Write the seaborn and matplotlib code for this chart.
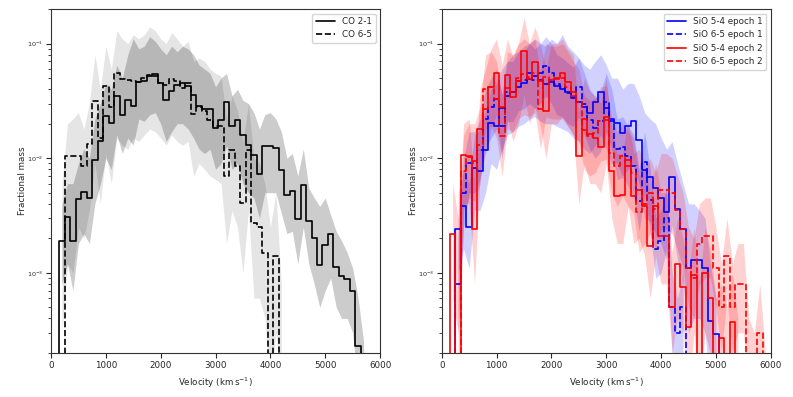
import numpy as np
import matplotlib
matplotlib.use("Agg")
import matplotlib.pyplot as plt
import seaborn as sns

# ------------------------------------------------------
# Values (bin width 100 km/s,
# values given at bin centres; 1e-5 = empty bin)
# ------------------------------------------------------
FLOOR = 1e-5

# CO 2-1, bins centred 100 ... 5700
co21_start = 100
co21 = [FLOOR, 0.00188, 0.00306, 0.00191, 0.00443, 0.00507, 0.00449, 0.0096, 0.0140, 0.0232,
        0.0203, 0.0347, 0.024, 0.0324, 0.0288, 0.0459, 0.0472, 0.0519, 0.0544, 0.0454,
        0.0324, 0.0384, 0.0438, 0.0454, 0.0424, 0.0359, 0.0288, 0.0269, 0.0269, 0.0184,
        0.0217, 0.0308, 0.0190, 0.0217, 0.0160, 0.0131, 0.0107, 0.0073, 0.0127, 0.0127,
        0.0123, 0.0079, 0.0048, 0.0052, 0.00296, 0.0058, 0.00286, 0.0020, 0.00117, 0.00175,
        0.00219, 0.00113, 0.00094, 0.00088, 0.00070, 0.00023, FLOOR]

# CO 6-5, bins centred 200 ... 4200
co65_start = 200
co65 = [FLOOR, 0.0105, 0.0105, 0.0105, 0.0085, 0.0134, 0.0318, 0.0150, 0.043, 0.028,
        0.0555, 0.049, 0.048, 0.047, 0.046, 0.050, 0.053, 0.052, 0.045, 0.0438,
        0.0491, 0.0469, 0.041, 0.0454, 0.0245, 0.028, 0.0257, 0.0217, 0.019, 0.019,
        0.0070, 0.0117, 0.0085, 0.0041, 0.0119, 0.0027, 0.0025, 0.00149, FLOOR, 0.00141,
        FLOOR]

# uncertainty bands (200 ... 5700)
co21_band_start = 200
co21_hi = [0.004, 0.006, 0.006, 0.009, 0.012, 0.010, 0.022, 0.030, 0.045, 0.040,
           0.065, 0.050, 0.080, 0.110, 0.090, 0.095, 0.115, 0.105, 0.090, 0.080,
           0.095, 0.085, 0.095, 0.090, 0.080, 0.065, 0.060, 0.055, 0.042, 0.050,
           0.055, 0.035, 0.040, 0.032, 0.030, 0.025, 0.018, 0.024, 0.025, 0.022,
           0.017, 0.010, 0.011, 0.007, 0.012, 0.0055, 0.0045, 0.0038, 0.0045, 0.0032,
           0.0023, 0.0019, 0.0015, 0.0011, 0.0006, 0.00025]
co21_lo = [0.0008, 0.0012, 0.0007, 0.0018, 0.0022, 0.0018, 0.004, 0.006, 0.010, 0.008,
           0.016, 0.011, 0.015, 0.013, 0.022, 0.021, 0.024, 0.025, 0.020, 0.014,
           0.017, 0.020, 0.020, 0.018, 0.015, 0.012, 0.011, 0.012, 0.008, 0.009,
           0.013, 0.008, 0.009, 0.006, 0.005, 0.0045, 0.003, 0.005, 0.005, 0.005,
           0.0033, 0.0022, 0.0023, 0.0012, 0.0025, 0.0012, 0.0008, 0.0005, 0.0007, 0.0009,
           0.0005, 0.0004, 0.0004, 0.0003, 0.0001, 0.0001]

co65_band_start = 200
co65_hi = [0.006, 0.020, 0.022, 0.025, 0.018, 0.030, 0.080, 0.040, 0.095, 0.060,
           0.130, 0.110, 0.100, 0.120, 0.110, 0.120, 0.140, 0.130, 0.110, 0.100,
           0.125, 0.110, 0.095, 0.105, 0.070, 0.075, 0.070, 0.060, 0.055, 0.052,
           0.022, 0.035, 0.026, 0.014, 0.030, 0.010, 0.009, 0.006, 0.0025, 0.005,
           0.0008]
co65_lo = [0.0003, 0.0012, 0.0010, 0.0025, 0.0020, 0.0035, 0.009, 0.004, 0.011, 0.006,
           0.015, 0.013, 0.012, 0.015, 0.014, 0.016, 0.018, 0.017, 0.015, 0.013,
           0.016, 0.014, 0.013, 0.014, 0.007, 0.009, 0.008, 0.007, 0.0065, 0.006,
           0.0018, 0.0035, 0.0025, 0.0010, 0.0035, 0.0006, 0.0006, 0.0004, 0.0001, 0.0003,
           0.0001]

# SiO 5-4 epoch 1, bins centred 200 ... 5100
sio54_e1_start = 200
sio54_e1 = [FLOOR, 0.0024, 0.0038, 0.0025, 0.0082, 0.0077, 0.0117, 0.0204, 0.019, 0.0275,
            0.035, 0.038, 0.042, 0.045, 0.049, 0.052, 0.048, 0.044, 0.046, 0.043,
            0.040, 0.038, 0.0335, 0.031, 0.028, 0.025, 0.031, 0.038, 0.0275, 0.021,
            0.0204, 0.0166, 0.019, 0.021, 0.0145, 0.0079, 0.0069, 0.0055, 0.0045, 0.0034,
            0.0069, 0.0036, 0.0024, 0.0011, 0.0013, 0.0013, 0.0011, 0.00038, 0.00029, FLOOR]

# SiO 6-5 epoch 1, bins centred 200 ... 4500
sio65_e1_start = 200
sio65_e1 = [FLOOR, 0.0008, 0.005, 0.0091, 0.0091, 0.0117, 0.022, 0.028, 0.033, 0.019,
            0.038, 0.038, 0.047, 0.048, 0.055, 0.048, 0.055, 0.064, 0.055, 0.044,
            0.042, 0.037, 0.034, 0.042, 0.030, 0.0217, 0.0184, 0.021, 0.031, 0.022,
            0.012, 0.0125, 0.0104, 0.0085, 0.0042, 0.0092, 0.0043, 0.0016, 0.0019, 0.003,
            0.0005, 0.0003, 0.0005, FLOOR]

# SiO 5-4 epoch 2, bins centred 100 ... 5400
sio54_e2_start = 100
sio54_e2 = [FLOOR, 0.0022, FLOOR, 0.0107, 0.0105, 0.0024, 0.018, 0.027, 0.042, 0.055,
            0.028, 0.053, 0.034, 0.047, 0.086, 0.049, 0.069, 0.047, 0.026, 0.048,
            0.050, 0.055, 0.046, 0.038, 0.0105, 0.022, 0.0163, 0.015, 0.0125, 0.023,
            0.0077, 0.0047, 0.0048, 0.0097, 0.0047, 0.0053, 0.0038, 0.0017, 0.0038, 0.0021,
            0.0021, 0.0005, 0.0012, 0.00075, 0.00034, 0.00096, FLOOR, 0.0010, 0.0006, FLOOR,
            0.00027, FLOOR, 0.00037, FLOOR]

# SiO 6-5 epoch 2, bins centred 300 ... 5900
sio65_e2_start = 300
sio65_e2 = [FLOOR, 0.0077, 0.0102, 0.0095, 0.013, 0.040, 0.042, 0.033, 0.0155, 0.041,
            0.038, 0.050, 0.054, 0.051, 0.055, 0.027, 0.051, 0.048, 0.049, 0.050,
            0.042, 0.035, 0.031, 0.0177, 0.0155, 0.0166, 0.021, 0.0217, 0.011, 0.0085,
            0.0104, 0.0085, 0.0074, 0.0034, 0.004, 0.005, 0.0036, 0.0053, 0.0053, 0.005,
            0.0035, 0.0024, 0.0011, 0.0009, 0.0018, 0.0021, 0.0021, 0.0011, 0.0005, 0.0014,
            0.0005, 0.0008, 0.0008, FLOOR, FLOOR, 0.0003, FLOOR]

# bands, right panel
sio54_e1_band_start = 300
sio54_e1_hi = [0.005, 0.008, 0.006, 0.016, 0.018, 0.025, 0.040, 0.045, 0.060, 0.070,
               0.080, 0.085, 0.095, 0.10, 0.11, 0.10, 0.095, 0.11, 0.10, 0.12,
               0.095, 0.085, 0.075, 0.065, 0.06, 0.07, 0.08, 0.065, 0.05, 0.05,
               0.04, 0.045, 0.045, 0.035, 0.025, 0.022, 0.02, 0.015, 0.012, 0.014,
               0.009, 0.006, 0.004, 0.004, 0.0035, 0.003, 0.0012, 0.0006]
sio54_e1_lo = [0.001, 0.0016, 0.0011, 0.0035, 0.0035, 0.005, 0.009, 0.008, 0.012, 0.016,
               0.017, 0.019, 0.02, 0.022, 0.023, 0.021, 0.02, 0.02, 0.019, 0.018,
               0.017, 0.015, 0.014, 0.012, 0.011, 0.013, 0.016, 0.012, 0.009, 0.009,
               0.007, 0.008, 0.009, 0.006, 0.003, 0.0028, 0.0022, 0.0018, 0.0013, 0.0026,
               0.0013, 0.0008, 0.0003, 0.0004, 0.0004, 0.0003, 0.0001, 0.0001]

sio65_e1_band_start = 300
sio65_e1_hi = [0.002, 0.010, 0.017, 0.017, 0.022, 0.04, 0.05, 0.06, 0.036, 0.07,
               0.07, 0.085, 0.085, 0.10, 0.09, 0.10, 0.115, 0.10, 0.08, 0.075,
               0.068, 0.062, 0.075, 0.055, 0.04, 0.034, 0.038, 0.055, 0.04, 0.022,
               0.023, 0.019, 0.016, 0.008, 0.017, 0.008, 0.003, 0.0035, 0.0055, 0.001,
               0.0006, 0.001]
sio65_e1_lo = [0.0003, 0.0025, 0.005, 0.005, 0.0065, 0.012, 0.015, 0.018, 0.01, 0.021,
               0.021, 0.026, 0.027, 0.03, 0.027, 0.03, 0.035, 0.03, 0.024, 0.023,
               0.02, 0.019, 0.023, 0.016, 0.012, 0.01, 0.0115, 0.017, 0.012, 0.0065,
               0.0068, 0.0057, 0.0046, 0.0023, 0.005, 0.0023, 0.0009, 0.001, 0.0016, 0.0002,
               0.0001, 0.0001]

sio54_e2_band_start = 200
sio54_e2_hi = [0.006, 0.003, 0.02, 0.022, 0.006, 0.04, 0.06, 0.09, 0.11, 0.065,
               0.11, 0.075, 0.10, 0.17, 0.10, 0.14, 0.10, 0.06, 0.10, 0.10,
               0.11, 0.09, 0.08, 0.025, 0.05, 0.038, 0.035, 0.03, 0.05, 0.018,
               0.011, 0.011, 0.022, 0.011, 0.012, 0.009, 0.0045, 0.009, 0.005, 0.005,
               0.0015, 0.003, 0.002, 0.001, 0.0025, 0.0008, 0.0025, 0.0016, 0.0006, 0.0008,
               0.0005, 0.001, 0.0004]
sio54_e2_lo = [0.0006, 0.0003, 0.004, 0.004, 0.0008, 0.007, 0.011, 0.018, 0.024, 0.011,
               0.022, 0.014, 0.02, 0.036, 0.02, 0.028, 0.019, 0.01, 0.02, 0.02,
               0.023, 0.019, 0.016, 0.004, 0.009, 0.006, 0.006, 0.005, 0.009, 0.003,
               0.0018, 0.0018, 0.0038, 0.0018, 0.002, 0.0014, 0.0006, 0.0014, 0.0008, 0.0008,
               0.0002, 0.0004, 0.0003, 0.0001, 0.0003, 0.0001, 0.0003, 0.0002, 0.0001, 0.0001,
               0.0001, 0.0001, 0.0001]

sio65_e2_band_start = 300
sio65_e2_hi = [0.002, 0.016, 0.02, 0.02, 0.028, 0.08, 0.085, 0.07, 0.035, 0.085,
               0.08, 0.10, 0.11, 0.10, 0.11, 0.055, 0.10, 0.095, 0.095, 0.10,
               0.085, 0.07, 0.06, 0.035, 0.032, 0.033, 0.042, 0.043, 0.022, 0.017,
               0.02, 0.017, 0.015, 0.007, 0.008, 0.01, 0.0075, 0.011, 0.011, 0.01,
               0.007, 0.005, 0.0025, 0.002, 0.004, 0.0045, 0.0045, 0.0025, 0.0012, 0.003,
               0.0012, 0.0018, 0.0018, 0.0004, 0.0003, 0.0008, 0.0002]
sio65_e2_lo = [0.0001, 0.0035, 0.0045, 0.0042, 0.006, 0.018, 0.019, 0.015, 0.007, 0.018,
               0.017, 0.022, 0.024, 0.023, 0.025, 0.012, 0.023, 0.022, 0.022, 0.022,
               0.019, 0.016, 0.014, 0.008, 0.007, 0.0075, 0.0095, 0.0098, 0.005, 0.0038,
               0.0047, 0.0038, 0.0033, 0.0015, 0.0018, 0.0022, 0.0016, 0.0024, 0.0024, 0.0022,
               0.0016, 0.0011, 0.0005, 0.0004, 0.0008, 0.0009, 0.0009, 0.0005, 0.0002, 0.0006,
               0.0002, 0.0003, 0.0003, 0.0001, 0.0001, 0.0001, 0.0001]

BLUE = "#0000ff"
RED = "#ff0000"


def centres(start, vals):
    return np.arange(len(vals)) * 100 + start


def hist_line(ax, start, vals, color, ls, label):
    sns.lineplot(x=centres(start, vals), y=vals, color=color, linestyle=ls,
                 drawstyle="steps-mid", lw=1.2, label=label, ax=ax,
                 estimator=None, errorbar=None, sort=False)


def band(ax, start, lo, hi, color, alpha):
    x = centres(start, lo)
    ax.fill_between(x, lo, hi, color=color, alpha=alpha, lw=0)


# ------------------------------------------------------
# Figure
# ------------------------------------------------------
sns.set_theme(style="ticks", color_codes=False)
plt.rcParams["font.family"] = ["DejaVu Sans"]
plt.rcParams["font.size"] = 6.3
plt.rcParams["axes.labelsize"] = 6.3
plt.rcParams["xtick.labelsize"] = 6.3
plt.rcParams["ytick.labelsize"] = 4.6
plt.rcParams["legend.fontsize"] = 6.3
plt.rcParams["axes.edgecolor"] = "#333333"
plt.rcParams["axes.linewidth"] = 0.8

fig = plt.figure(figsize=(7.93, 3.97), dpi=100)
ax1 = fig.add_axes([0.0643, 0.111, 0.415, 0.866])
ax2 = fig.add_axes([0.557, 0.111, 0.415, 0.866])

for ax in (ax1, ax2):
    ax.set_yscale("log")

band(ax1, co65_band_start, co65_lo, co65_hi, "k", 0.1)
band(ax1, co21_band_start, co21_lo, co21_hi, "k", 0.2)
hist_line(ax1, co21_start, co21, "k", "-", "CO 2-1")
hist_line(ax1, co65_start, co65, "k", "--", "CO 6-5")

band(ax2, sio54_e1_band_start, sio54_e1_lo, sio54_e1_hi, BLUE, 0.18)
band(ax2, sio65_e1_band_start, sio65_e1_lo, sio65_e1_hi, BLUE, 0.18)
band(ax2, sio54_e2_band_start, sio54_e2_lo, sio54_e2_hi, RED, 0.18)
band(ax2, sio65_e2_band_start, sio65_e2_lo, sio65_e2_hi, RED, 0.18)
hist_line(ax2, sio54_e1_start, sio54_e1, BLUE, "-", "SiO 5-4 epoch 1")
hist_line(ax2, sio65_e1_start, sio65_e1, BLUE, "--", "SiO 6-5 epoch 1")
hist_line(ax2, sio54_e2_start, sio54_e2, RED, "-", "SiO 5-4 epoch 2")
hist_line(ax2, sio65_e2_start, sio65_e2, RED, "--", "SiO 6-5 epoch 2")

for ax in (ax1, ax2):
    ax.set_xlim(0, 6000)
    ax.set_ylim(2e-4, 0.2)
    ax.set_xticks([0, 1000, 2000, 3000, 4000, 5000, 6000])
    ax.set_xlabel(r"Velocity (km$\,$s$^{-1}$)")
    ax.set_ylabel("Fractional mass", labelpad=0)
    ax.tick_params(which="major", length=3.5, width=0.8, pad=2)
    ax.tick_params(which="minor", length=2, width=0.6)
    ax.legend(loc="upper right", frameon=True, fancybox=True, edgecolor="#cccccc",
              framealpha=0.8, handlelength=2.2)

fig.savefig("out.png", dpi=100)
